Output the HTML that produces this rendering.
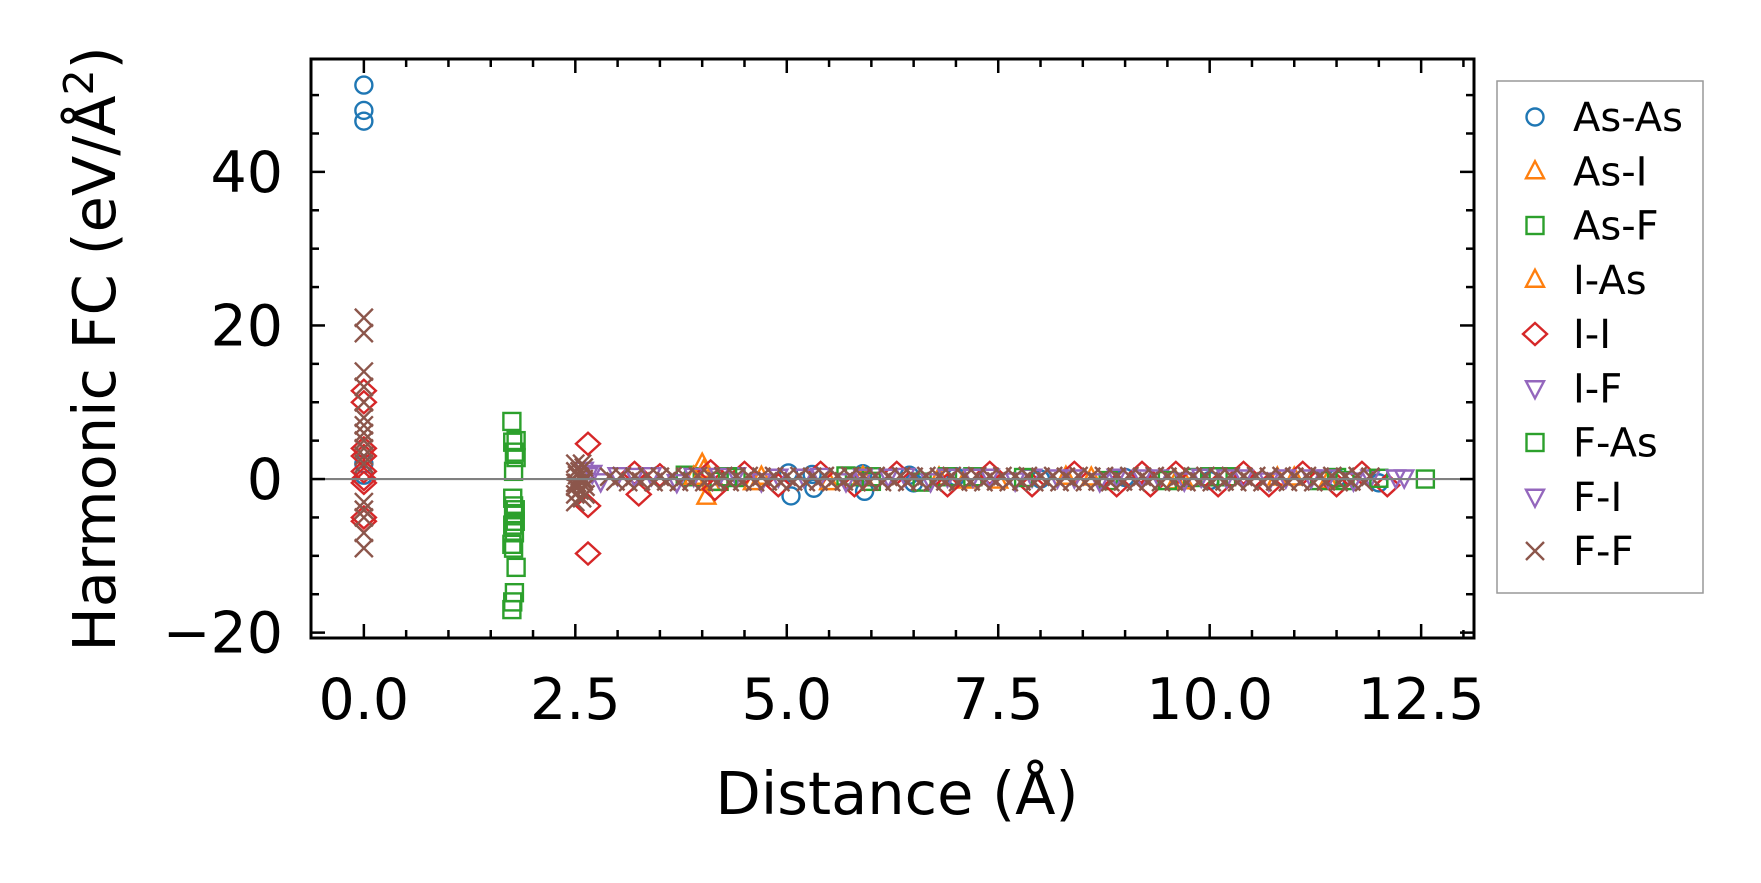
<!DOCTYPE html>
<html><head><meta charset="utf-8"><style>
html,body{margin:0;padding:0;background:#fff;}
svg{display:block;font-family:"DejaVu Sans","Liberation Sans",sans-serif;}
</style></head><body>
<svg id="chart" width="1761" height="883" viewBox="0 0 1761 883" xmlns="http://www.w3.org/2000/svg">
<rect x="0" y="0" width="1761" height="883" fill="#fff"/>
<g id="marks"></g>
<g id="axes"></g>
<g id="legend"></g>
</svg>
<script>
const xTickLabels = ["0.0","2.5","5.0","7.5","10.0","12.5"];
const yTickLabels = ["\u221220","0","20","40"];
const seriesNames = ["As-As","As-I","As-F","I-As","I-I","I-F","F-As","F-I","F-F"];
const asAsX = [0,0,0,0,0,5.02,5.05,5.3,5.32,5.9,5.92,6.45,6.5,7.0,8.0,9.0,10.0,11.5,12.0];
const asAsY = [51.3,48,46.6,2,0.5,0.8,-2.2,0.6,-1.2,0.7,-1.6,0.5,-0.5,0.3,0,0.2,-0.2,0.1,-0.5];
const asIX = [4.0,4.05,4.1,4.7,5.5,6.8,7.5,8.3,9.6,10.8,11.4];
const asIY = [2,-2.3,-0.5,0.3,-0.4,0.2,-0.2,0.3,-0.3,0.2,-0.2];
const asFX = [1.75,1.76,1.78,1.8,1.77,1.79,1.76,1.78,1.75,1.77,1.8,1.78,1.75,3.8,3.9,4.2,4.4,5.7,5.8,6.0,6.6,6.9,7.2,8.8,9.8,10.0,10.2,11.3,11.5,12.55];
const asFY = [7.5,4.8,3.5,2.8,-3.5,-4,-6,-7,-8.5,-9,-11.5,-14.8,-17,0.5,0.3,-0.3,0.2,0.4,0.3,0.3,-0.4,0.3,0.3,-0.2,0.2,0.3,0.3,-0.2,0.2,0];
const iAsX = [3.9,4.02,4.6,5.9,7.1,8.6,9.7,11.0];
const iAsY = [0.3,1.2,-0.4,0.3,-0.2,0.2,-0.3,0.2];
const iIX = [0,0,0,0,0,0,0,0,0,2.65,2.65,2.65,3.2,3.25,3.5,4.1,4.15,4.5,4.9,5.4,5.8,6.3,6.9,7.4,7.9,8.4,8.9,9.2,9.3,9.6,10.1,10.4,10.7,11.1,11.5,11.8,12.1];
const iIY = [11.5,10,4,3,1,0,-0.5,-5,-5.5,4.6,-3.5,-9.7,0.8,-2,0.5,1,-1.3,0.8,-0.8,0.8,-0.8,0.8,-0.8,0.8,-0.8,0.8,-0.8,0.8,-0.8,0.8,-0.8,0.8,-0.8,0.8,-0.8,0.8,-0.8];
const iFX = [2.6,2.65,2.7,3.0,3.4,3.9,4.4,4.9,5.4,5.9,6.4,6.9,7.4,7.9,8.4,8.9,9.4,9.9,10.4,10.9,11.4,11.9,12.3];
const iFY = [1.2,0.5,0.8,0.5,0.5,0.4,0.5,0.3,0.4,0.3,0.4,0.3,0.3,0.3,0.2,0.3,0.2,0.3,0.2,0.2,0.2,0.2,0.2];
const fAsX = [1.76,1.78,1.79,1.77,1.8,1.76,4.3,6.0,7.8,9.5,10.1,11.6,12.0];
const fAsY = [-2.5,-4.5,-5.5,1,5,-16,0.3,-0.3,0.2,-0.2,0.3,-0.2,0.1];
const fIX = [2.8,3.2,3.7,4.2,4.7,5.2,5.7,6.2,6.7,7.2,7.7,8.2,8.7,9.2,9.7,10.2,10.7,11.2,11.7,12.2];
const fIY = [-0.3,0.4,-0.4,0.4,-0.3,0.3,-0.3,0.3,-0.3,0.3,-0.2,0.2,-0.3,0.2,-0.2,0.2,-0.2,0.2,-0.2,0.2];
const fFX = [0,0,0,0,0,0,0,0,0,0,0,0,0,0,0,0,0,
2.5,2.5,2.5,2.5,2.5,2.52,2.52,2.55,2.55,2.58,2.58,2.6,2.6,2.62,2.62,2.5,2.55,2.6,
2.9,2.975,3.05,3.125,3.2,3.275,3.35,3.425,3.5,3.575,3.65,3.725,3.8,3.875,3.95,4.025,4.1,4.175,4.25,4.325,4.4,4.475,4.55,4.625,4.7,4.775,4.85,4.925,5.0,5.075,5.15,5.225,5.3,5.375,5.45,5.525,5.6,5.675,5.75,5.825,5.9,5.975,6.05,6.125,6.2,6.275,6.35,6.425,6.5,6.575,6.65,6.725,6.8,6.875,6.95,7.025,7.1,7.175,7.25,7.325,7.4,7.475,7.55,7.625,7.7,7.775,7.85,7.925,8.0,8.075,8.15,8.225,8.3,8.375,8.45,8.525,8.6,8.675,8.75,8.825,8.9,8.975,9.05,9.125,9.2,9.275,9.35,9.425,9.5,9.575,9.65,9.725,9.8,9.875,9.95,10.025,10.1,10.175,10.25,10.325,10.4,10.475,10.55,10.625,10.7,10.775,10.85,10.925,11.0,11.075,11.15,11.225,11.3,11.375,11.45,11.525,11.6,11.675,11.75,11.825,11.9,11.975,12.05,12.125,12.2];
const fFY = [21,19,14,12,10,8,7,6,5,4,3,2,-3,-4,-5,-7,-9,
2,1,-1,-2,-3,0.5,-0.5,1,-1.5,2,-2.5,0,1.5,-1,-2,-0.5,0.3,-0.3,
0.3,-0.3,0.4,-0.4,0.3,-0.3,0.4,-0.4,0.3,-0.3,0.4,-0.4,0.3,-0.3,0.4,-0.4,0.3,-0.3,0.4,-0.4,0.3,-0.3,0.4,-0.4,0.3,-0.3,0.4,-0.4,0.3,-0.3,0.4,-0.4,0.3,-0.3,0.4,-0.4,0.3,-0.3,0.4,-0.4,0.3,-0.3,0.4,-0.4,0.3,-0.3,0.4,-0.4,0.3,-0.3,0.4,-0.4,0.3,-0.3,0.4,-0.4,0.3,-0.3,0.4,-0.4,0.3,-0.3,0.4,-0.4,0.3,-0.3,0.4,-0.4,0.3,-0.3,0.4,-0.4,0.3,-0.3,0.4,-0.4,0.3,-0.3,0.4,-0.4,0.3,-0.3,0.4,-0.4,0.3,-0.3,0.4,-0.4,0.3,-0.3,0.4,-0.4,0.3,-0.3,0.4,-0.4,0.3,-0.3,0.4,-0.4,0.3,-0.3,0.4,-0.4,0.3,-0.3,0.4,-0.4,0.3,-0.3,0.4,-0.4,0.3,-0.3,0.4,-0.4,0.3,-0.3,0.4,-0.4,0.3];

const NS="http://www.w3.org/2000/svg";
const L=311,R=1474,T=59,B=638;
const X0=-0.625,X1=13.125,Y0=-20.7,Y1=54.7;
function xs(v){return L+(v-X0)/(X1-X0)*(R-L);}
function ys(v){return B-(v-Y0)/(Y1-Y0)*(B-T);}
function mk(tag,attrs,parent){const e=document.createElementNS(NS,tag);for(const k in attrs)e.setAttribute(k,attrs[k]);parent.appendChild(e);return e;}
const C={blue:"#1f77b4",orange:"#ff7f0e",green:"#2ca02c",red:"#d62728",purple:"#9467bd",brown:"#8c564b"};
function marker(kind,cx,cy,color,parent){
  const st={fill:"none",stroke:color,"stroke-width":2.4};
  let e;
  if(kind==="o"){e=mk("circle",Object.assign({cx:cx,cy:cy,r:8.5},st),parent);}
  else if(kind==="^"){e=mk("polygon",Object.assign({points:`${cx},${cy-10} ${cx+9},${cy+7} ${cx-9},${cy+7}`},st),parent);}
  else if(kind==="v"){e=mk("polygon",Object.assign({points:`${cx},${cy+10} ${cx+9},${cy-7} ${cx-9},${cy-7}`},st),parent);}
  else if(kind==="s"){e=mk("rect",Object.assign({x:cx-8.5,y:cy-8.5,width:17,height:17},st),parent);}
  else if(kind==="D"){e=mk("polygon",Object.assign({points:`${cx},${cy-11} ${cx+12},${cy} ${cx},${cy+11} ${cx-12},${cy}`},st),parent);}
  else {e=mk("path",Object.assign({d:`M${cx-9},${cy-9}L${cx+9},${cy+9}M${cx-9},${cy+9}L${cx+9},${cy-9}`},st),parent);}
  return e;
}
const series=[
 {xv:asAsX,yv:asAsY,k:"o",c:C.blue},
 {xv:asIX,yv:asIY,k:"^",c:C.orange},
 {xv:asFX,yv:asFY,k:"s",c:C.green},
 {xv:iAsX,yv:iAsY,k:"^",c:C.orange},
 {xv:iIX,yv:iIY,k:"D",c:C.red},
 {xv:iFX,yv:iFY,k:"v",c:C.purple},
 {xv:fAsX,yv:fAsY,k:"s",c:C.green},
 {xv:fIX,yv:fIY,k:"v",c:C.purple},
 {xv:fFX,yv:fFY,k:"x",c:C.brown}
];
const marks=document.getElementById("marks");
series.forEach((s,si)=>{
  const g=mk("g",{},marks);
  
  
  s.xv.forEach((xv,i)=>{
    const m=marker(s.k,xs(xv),ys(s.yv[i]),s.c,g);
    
    
  });
});
const zl=mk("line",{x1:L,x2:R,y1:ys(0),y2:ys(0),stroke:"#808080","stroke-width":2.2},marks);



const ax=document.getElementById("axes");
for(let i=0;i<=26;i++){
  const v=i*0.5; if(v>X1) break;
  const major=(i%5===0); const len=major?14:8; const x=xs(v);
  const t1=mk("line",{x1:x,x2:x,y1:B,y2:B-len,stroke:"#000","stroke-width":2.5},ax);
  
  
  const t2=mk("line",{x1:x,x2:x,y1:T,y2:T+len,stroke:"#000","stroke-width":2.5},ax);
  
  
}
xTickLabels.forEach((lab,i)=>{
  const t=mk("text",{x:xs(i*2.5),y:719,"font-size":57,"text-anchor":"middle",fill:"#000"},ax);
  t.textContent=lab;
  
  
});
for(let v=-20;v<=Y1;v+=5){
  const major=(v%20===0); const len=major?14:8; const y=ys(v);
  const t1=mk("line",{x1:L,x2:L+len,y1:y,y2:y,stroke:"#000","stroke-width":2.5},ax);
  
  
  const t2=mk("line",{x1:R,x2:R-len,y1:y,y2:y,stroke:"#000","stroke-width":2.5},ax);
  
  
}
yTickLabels.forEach((lab,i)=>{
  const t=mk("text",{x:283,y:ys(-20+i*20)+20,"font-size":57,"text-anchor":"end",fill:"#000"},ax);
  t.textContent=lab;
  
  
});
const frame=mk("rect",{x:L,y:T,width:R-L,height:B-T,fill:"none",stroke:"#000","stroke-width":3},ax);


const xl=mk("text",{x:897,y:814,"font-size":59,"text-anchor":"middle",fill:"#000"},ax);
xl.textContent="Distance (Å)";


const yl=mk("text",{x:0,y:0,"font-size":59,"text-anchor":"middle",fill:"#000",transform:"translate(115,349) rotate(-90)"},ax);
yl.innerHTML='Harmonic FC (eV/Å<tspan font-size="41" dy="-22">2</tspan><tspan dy="22">)</tspan>';



const lg=document.getElementById("legend");
const box=mk("rect",{x:1497,y:81,width:206,height:512,fill:"#fff",stroke:"#999","stroke-width":1.5},lg);


series.forEach((s,i)=>{
  const y=117+i*54.25;
  const g=mk("g",{},lg);
  
  
  marker(s.k,1535,y,s.c,g);
  const t=mk("text",{x:1573,y:y+14,"font-size":40,fill:"#000"},g);
  t.textContent=seriesNames[i];
});
</script>
</body></html>
